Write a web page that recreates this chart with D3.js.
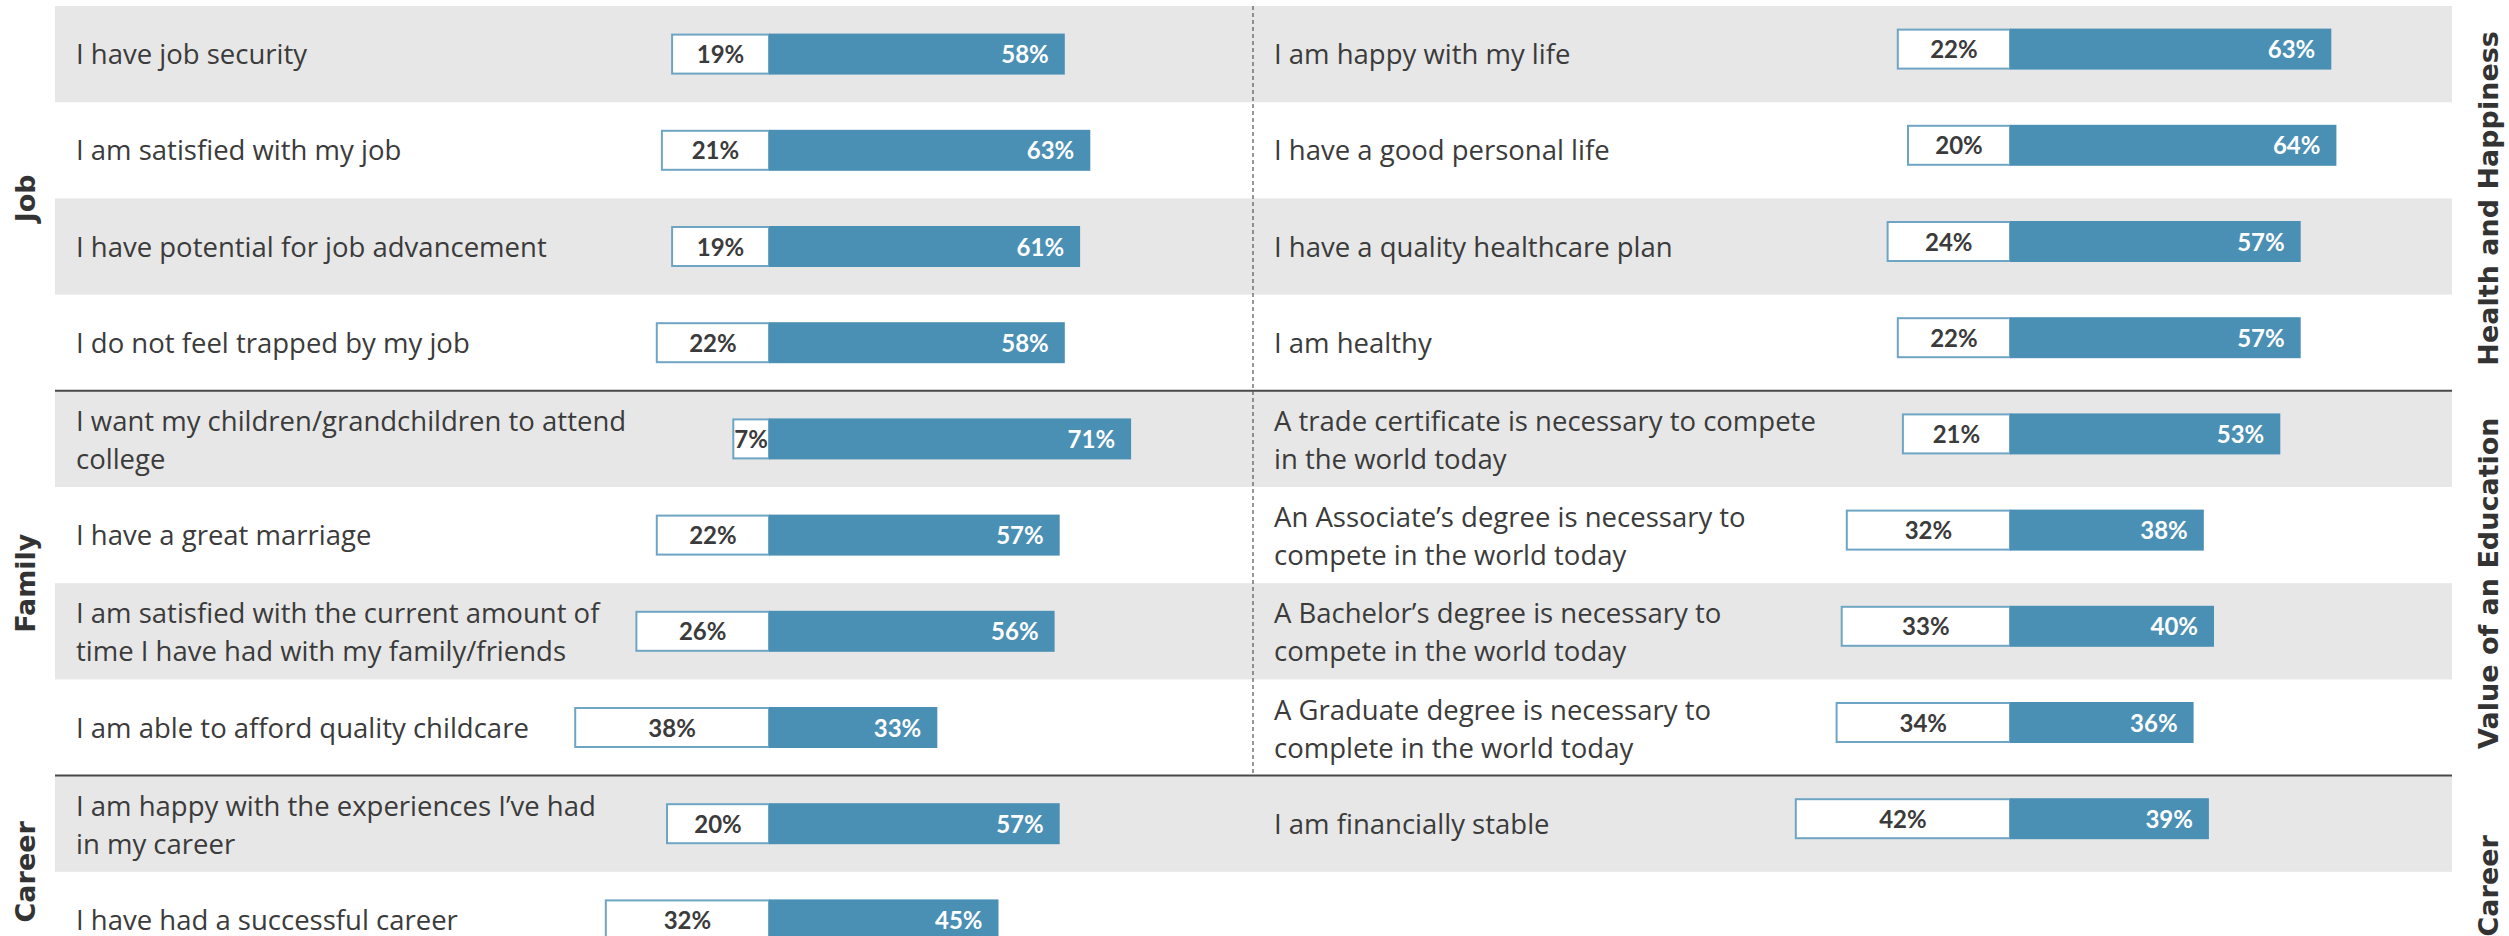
<!DOCTYPE html>
<html>
<head>
<meta charset="utf-8">
<script src="https://cdn.jsdelivr.net/npm/d3@7"></script>
<style>
  html, body { margin: 0; padding: 0; background: #fff; }
  svg { display: block; }
</style>
</head>
<body>
<div id="chart"></div>
<script>
// ---- data ----
const leftLabels = [
  ['I have job security'],
  ['I am satisfied with my job'],
  ['I have potential for job advancement'],
  ['I do not feel trapped by my job'],
  ['I want my children/grandchildren to attend', 'college'],
  ['I have a great marriage'],
  ['I am satisfied with the current amount of', 'time I have had with my family/friends'],
  ['I am able to afford quality childcare'],
  ['I am happy with the experiences I\u2019ve had', 'in my career'],
  ['I have had a successful career']
];
const leftNeg = [19, 21, 19, 22, 7, 22, 26, 38, 20, 32];
const leftPos = [58, 63, 61, 58, 71, 57, 56, 33, 57, 45];

const rightLabels = [
  ['I am happy with my life'],
  ['I have a good personal life'],
  ['I have a quality healthcare plan'],
  ['I am healthy'],
  ['A trade certificate is necessary to compete', 'in the world today'],
  ['An Associate\u2019s degree is necessary to', 'compete in the world today'],
  ['A Bachelor\u2019s degree is necessary to', 'compete in the world today'],
  ['A Graduate degree is necessary to', 'complete in the world today'],
  ['I am financially stable']
];
const rightNeg = [22, 20, 24, 22, 21, 32, 33, 34, 42];
const rightPos = [63, 64, 57, 57, 53, 38, 40, 36, 39];

const leftSections = ['Job', 'Family', 'Career'];
const leftSectionRows = [[0, 3], [4, 7], [8, 9]];
const rightSections = ['Health and Happiness', 'Value of an Education', 'Career'];
const rightSectionRows = [[0, 3], [4, 7], [8, 9]];

// ---- layout ----
const width = 2509, height = 936;
const blue = '#4A90B5';
const textColor = '#3b3b3b';
const rowH = 96.2;
const topY = 6;
const bandLeft = 55, bandRight = 2452, divX = 1253;

const svg = d3.select('#chart').append('svg')
  .attr('width', width)
  .attr('height', height);

const y = d3.scaleBand()
  .domain(d3.range(10))
  .range([topY, topY + rowH * 10])
  .paddingInner(0);

const xL = d3.scaleLinear().domain([0, 100]).range([769, 769 + 510]);
const xR = d3.scaleLinear().domain([0, 100]).range([2010, 2010 + 510]);

// alternating grey bands
svg.append('g')
  .selectAll('rect')
  .data(d3.range(10).filter(i => i % 2 === 0))
  .join('rect')
  .attr('x', bandLeft)
  .attr('y', d => y(d))
  .attr('width', bandRight - bandLeft)
  .attr('height', y.bandwidth())
  .attr('fill', '#E7E7E7');

// section separators
svg.append('g')
  .selectAll('line')
  .data([4, 8])
  .join('line')
  .attr('x1', bandLeft)
  .attr('x2', bandRight)
  .attr('y1', d => y(d))
  .attr('y2', d => y(d))
  .attr('stroke', '#4a4a4a')
  .attr('stroke-width', 2);

// dashed divider between panels
svg.append('line')
  .attr('x1', divX).attr('x2', divX)
  .attr('y1', topY).attr('y2', y(8))
  .attr('stroke', '#555')
  .attr('stroke-width', 1.2)
  .attr('stroke-dasharray', '4,3');

function drawPanel(labels, neg, pos, x, textX, barShift) {
  const g = svg.append('g');
  const rows = g.selectAll('g.row')
    .data(labels.map((l, i) => ({ i, lines: l, neg: neg[i], pos: pos[i] })))
    .join('g')
    .attr('class', 'row')
    .attr('transform', d => `translate(0,${y(d.i) + y.bandwidth() / 2})`);

  // row label
  rows.append('text')
    .attr('x', textX)
    .attr('font-family', '"Open Sans", Lato, sans-serif')
    .attr('font-size', 27.5)
    .attr('fill', textColor)
    .selectAll('tspan')
    .data(d => d.lines.map((t, k) => ({ t, k, n: d.lines.length })))
    .join('tspan')
    .attr('x', textX)
    .attr('y', d => d.n === 1 ? 10 : (d.k === 0 ? -8 : 30))
    .text(d => d.t);

  const barH = 39;
  // white part (negative side)
  rows.append('rect')
    .attr('x', d => x(-d.neg))
    .attr('y', barShift - barH / 2)
    .attr('width', d => x(0) - x(-d.neg))
    .attr('height', barH)
    .attr('fill', '#fff')
    .attr('stroke', '#6FA5C4')
    .attr('stroke-width', 2);

  // blue part
  rows.append('rect')
    .attr('x', x(0))
    .attr('y', barShift - barH / 2 - 1)
    .attr('width', d => x(d.pos) - x(0))
    .attr('height', barH + 2)
    .attr('fill', blue);

  rows.append('text')
    .attr('x', d => (x(-d.neg) + x(0)) / 2)
    .attr('y', barShift + 9)
    .attr('text-anchor', 'middle')
    .attr('font-family', 'Lato, "Open Sans", sans-serif')
    .attr('font-weight', 'bold')
    .attr('font-size', 24)
    .attr('fill', textColor)
    .text(d => d.neg + '%');

  rows.append('text')
    .attr('x', d => x(d.pos) - 16)
    .attr('y', barShift + 9)
    .attr('text-anchor', 'end')
    .attr('font-family', 'Lato, "Open Sans", sans-serif')
    .attr('font-weight', 'bold')
    .attr('font-size', 24)
    .attr('fill', '#fff')
    .text(d => d.pos + '%');
}

drawPanel(leftLabels, leftNeg, leftPos, xL, 76, 0);
drawPanel(rightLabels, rightNeg, rightPos, xR, 1274, -5);

// section titles
function sectionTitles(names, spans, bx, offsets) {
  svg.append('g')
    .selectAll('text')
    .data(names.map((n, i) => ({ n, s: spans[i], o: offsets[i] })))
    .join('text')
    .attr('transform', d => {
      const cy = (y(d.s[0]) + y(d.s[1]) + y.bandwidth()) / 2 + d.o;
      return `translate(${bx},${cy}) rotate(-90)`;
    })
    .attr('text-anchor', 'middle')
    .attr('font-family', '"DejaVu Sans", Verdana, sans-serif')
    .attr('font-weight', 'bold')
    .attr('font-size', 27)
    .attr('fill', '#333')
    .text(d => d.n);
}

sectionTitles(leftSections, leftSectionRows, 34.5, [0, 0, 0]);
sectionTitles(rightSections, rightSectionRows, 2498, [0, 0, 14]);
</script>
</body>
</html>
